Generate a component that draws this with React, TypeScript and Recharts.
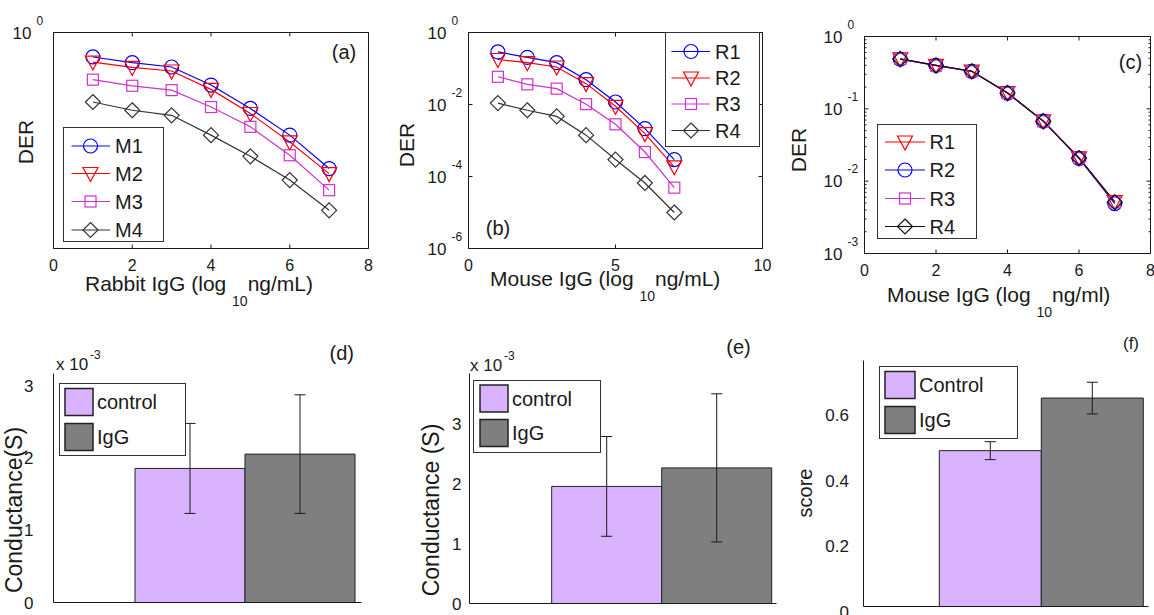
import React from 'react';
import { LineChart, Line, XAxis, YAxis, Legend, BarChart, Bar, ErrorBar } from 'recharts';

const FONT = '"Liberation Sans", Arial, Helvetica, sans-serif';
const INK = '#1a1a1a';
const W = 1154;
const H = 615;

// ---------- Panel (a): Rabbit IgG ----------
const concA = [1, 2, 3, 4, 5, 6, 7];
const derA_M1 = [0.209, 0.145, 0.11, 0.0347, 0.00776, 0.00141, 0.000166];
const derA_M2 = [0.151, 0.107, 0.0851, 0.0263, 0.00562, 0.000912, 0.00012];
const derA_M3 = [0.049, 0.0331, 0.0251, 0.00851, 0.0024, 0.000389, 0.0000417];
const derA_M4 = [0.01175, 0.00692, 0.00501, 0.00141, 0.000363, 0.0000794, 0.0000115];
const xTicksA = [0, 2, 4, 6, 8];
const yTicksA = [1];

// ---------- Panel (b): Mouse IgG ----------
const concB = [1, 2, 3, 4, 5, 6, 7];
const derB_R1 = [0.288, 0.204, 0.145, 0.049, 0.01175, 0.00214, 0.000295];
const derB_R2 = [0.178, 0.145, 0.11, 0.038, 0.00891, 0.00155, 0.000186];
const derB_R3 = [0.0589, 0.0363, 0.0275, 0.0102, 0.00282, 0.000479, 0.000049];
const derB_R4 = [0.01096, 0.00692, 0.00468, 0.00141, 0.000295, 0.0000661, 0.00001];
const xTicksB = [0, 5, 10];
const yTicksB = [1, 0.01, 0.0001, 0.000001];

// ---------- Panel (c): Mouse IgG ----------
const concC = [1, 2, 3, 4, 5, 6, 7];
const derC_R1 = [0.49, 0.4, 0.333, 0.167, 0.068, 0.021, 0.0052];
const derC_R2 = [0.485, 0.398, 0.33, 0.165, 0.0676, 0.0207, 0.0049];
const derC_R3 = [0.488, 0.396, 0.331, 0.166, 0.0672, 0.0209, 0.0051];
const derC_R4 = [0.49, 0.398, 0.331, 0.166, 0.0676, 0.0209, 0.00513];
const xTicksC = [0, 2, 4, 6, 8];
const yMajorC = [1, 0.1, 0.01, 0.001];
const yMinorC = [
  0.002, 0.003, 0.004, 0.005, 0.006, 0.007, 0.008, 0.009,
  0.02, 0.03, 0.04, 0.05, 0.06, 0.07, 0.08, 0.09,
  0.2, 0.3, 0.4, 0.5, 0.6, 0.7, 0.8, 0.9,
];

// ---------- Bar panels ----------
const barKeys = ['control', 'igg'];
const namesD = ['control', 'IgG'];
const conductanceD = [1.856, 2.054];
const conductanceErrD = [0.623, 0.821];
const yTicksD = [0, 1, 2, 3];

const namesE = ['control', 'IgG'];
const conductanceE = [1.96, 2.27];
const conductanceErrE = [0.835, 1.24];
const yTicksE = [0, 1, 2, 3];

const namesF = ['Control', 'IgG'];
const scoreF = [0.477, 0.638];
const scoreErrF = [0.0275, 0.0485];
const yTicksF = [0, 0.2, 0.4, 0.6];

const BLUE = '#0000ff';
const RED = '#ff0000';
const MAGENTA = '#cc33cc';
const CONTROL_FILL = '#d9b3fd';
const IGG_FILL = '#7f7f7f';

type Shape = 'circle' | 'tri' | 'square' | 'diamond';

const rowsA = concA.map((x, i) => ({ x, M1: derA_M1[i], M2: derA_M2[i], M3: derA_M3[i], M4: derA_M4[i] }));
const rowsB = concB.map((x, i) => ({ x, R1: derB_R1[i], R2: derB_R2[i], R3: derB_R3[i], R4: derB_R4[i] }));
const rowsC = concC.map((x, i) => ({ x, R1: derC_R1[i], R2: derC_R2[i], R3: derC_R3[i], R4: derC_R4[i] }));

const seriesA = [
  { key: 'M1', color: BLUE, shape: 'circle' as Shape },
  { key: 'M2', color: RED, shape: 'tri' as Shape },
  { key: 'M3', color: MAGENTA, shape: 'square' as Shape },
  { key: 'M4', color: '#333333', shape: 'diamond' as Shape },
];
const seriesB = [
  { key: 'R1', color: BLUE, shape: 'circle' as Shape },
  { key: 'R2', color: RED, shape: 'tri' as Shape },
  { key: 'R3', color: MAGENTA, shape: 'square' as Shape },
  { key: 'R4', color: '#333333', shape: 'diamond' as Shape },
];
const seriesC = [
  { key: 'R1', color: RED, shape: 'tri' as Shape },
  { key: 'R2', color: BLUE, shape: 'circle' as Shape },
  { key: 'R3', color: MAGENTA, shape: 'square' as Shape },
  { key: 'R4', color: '#111111', shape: 'diamond' as Shape },
];

function Marker({ shape, cx, cy, color }: { shape: Shape; cx: number; cy: number; color: string }) {
  const s = { fill: 'none', stroke: color, strokeWidth: 1.2 };
  if (cx == null || cy == null || isNaN(cx) || isNaN(cy)) return null;
  switch (shape) {
    case 'circle':
      return <circle cx={cx} cy={cy} r={7} {...s} />;
    case 'tri':
      return <polygon points={`${cx - 7.5},${cy - 6} ${cx + 7.5},${cy - 6} ${cx},${cy + 8}`} {...s} />;
    case 'square':
      return <rect x={cx - 5.5} y={cy - 5.5} width={11} height={11} {...s} />;
    default:
      return <polygon points={`${cx},${cy - 7.5} ${cx + 7.5},${cy} ${cx},${cy + 7.5} ${cx - 7.5},${cy}`} {...s} />;
  }
}

function XTick(props: any) {
  const { x, y, payload, side } = props;
  if (side === 'top') {
    return <line x1={x} x2={x} y1={y} y2={y + 4} stroke={INK} />;
  }
  return (
    <g>
      <line x1={x} x2={x} y1={y} y2={y - 4} stroke={INK} />
      <text x={x} y={y + 22} textAnchor="middle" fontSize={16} fontFamily={FONT} fill={INK}>
        {payload.value}
      </text>
    </g>
  );
}

function YLogTick(props: any) {
  const { x, y, payload, side, labelled } = props;
  const v = payload.value;
  const lg = Math.log10(v);
  const exp = Math.round(lg);
  const major = Math.abs(lg - exp) < 1e-6;
  const len = major ? 4 : 2;
  if (side === 'right') {
    return <line x1={x} x2={x - len} y1={y} y2={y} stroke={INK} />;
  }
  const showLabel = major && labelled && labelled.indexOf(v) >= 0;
  return (
    <g>
      <line x1={x} x2={x + len} y1={y} y2={y} stroke={INK} />
      {showLabel && (
        <g fontFamily={FONT} fill={INK}>
          <text x={x - 22} y={y + 6} textAnchor="end" fontSize={17}>10</text>
          <text x={x - 17} y={y - 8} textAnchor="start" fontSize={12}>{String(exp)}</text>
        </g>
      )}
    </g>
  );
}

function LineLegendBox({ payload, cfg, shapes, order }: any) {
  const items = (payload || [])
    .filter((p: any) => p.type !== 'none')
    .slice()
    .sort((a: any, b: any) => order.indexOf(a.dataKey) - order.indexOf(b.dataKey));
  return (
    <svg width={cfg.w} height={cfg.h} style={{ display: 'block' }}>
      <rect x={0.5} y={0.5} width={cfg.w - 1} height={cfg.h - 1} fill="#fff" stroke="#333" />
      {items.map((it: any, i: number) => {
        const cy = cfg.rows[i];
        return (
          <g key={String(it.dataKey)}>
            <line x1={cfg.l0} x2={cfg.l1} y1={cy} y2={cy} stroke={it.color} strokeWidth={1.2} />
            <Marker shape={shapes[it.dataKey]} cx={cfg.mx} cy={cy} color={it.color} />
            <text x={cfg.tx} y={cy + 7} fontSize={20} fontFamily={FONT} fill={INK}>
              {it.value}
            </text>
          </g>
        );
      })}
    </svg>
  );
}

// plot box given as absolute pixel edges; each axis takes 1px of room
function LinePanel({ data, series, box, xDomain, xTicks, yDomain, yTicks, yLabelled, legendCfg }: any) {
  const shapes: Record<string, Shape> = {};
  series.forEach((s: any) => (shapes[s.key] = s.shape));
  const order = series.map((s: any) => s.key);
  const margin = { left: box.l - 1, top: box.t - 1, right: W - box.r - 1, bottom: H - box.b - 1 };
  return (
    <div style={{ position: 'absolute', left: 0, top: 0 }}>
      <LineChart width={W} height={H} data={data} margin={margin}>
        <XAxis xAxisId="b" dataKey="x" type="number" domain={xDomain} ticks={xTicks} interval={0}
          allowDataOverflow height={1} tickSize={0} tickMargin={0} tickLine={false}
          axisLine={{ stroke: INK }} tick={<XTick side="bottom" />} />
        <XAxis xAxisId="t" orientation="top" dataKey="x" type="number" domain={xDomain} ticks={xTicks} interval={0}
          allowDataOverflow height={1} tickSize={0} tickMargin={0} tickLine={false}
          axisLine={{ stroke: INK }} tick={<XTick side="top" />} />
        <YAxis yAxisId="l" type="number" scale="log" domain={yDomain} ticks={yTicks} interval={0}
          allowDataOverflow width={1} tickSize={0} tickMargin={0} tickLine={false}
          axisLine={{ stroke: INK }} tick={<YLogTick side="left" labelled={yLabelled} />} />
        <YAxis yAxisId="r" orientation="right" type="number" scale="log" domain={yDomain} ticks={yTicks} interval={0}
          allowDataOverflow width={1} tickSize={0} tickMargin={0} tickLine={false}
          axisLine={{ stroke: INK }} tick={<YLogTick side="right" />} />
        <Legend layout="vertical" align="center" verticalAlign="middle"
          wrapperStyle={{ left: legendCfg.x, top: legendCfg.y, width: legendCfg.w, height: legendCfg.h }}
          content={(p: any) => <LineLegendBox payload={p.payload} cfg={legendCfg} shapes={shapes} order={order} />} />
        {series.map((s: any) => (
          <Line key={s.key} xAxisId="b" yAxisId="l" dataKey={s.key} name={s.key} stroke={s.color}
            strokeWidth={1.2} activeDot={false} isAnimationActive={false}
            dot={(p: any) => <Marker key={`${s.key}-${p.index}`} shape={s.shape} cx={p.cx} cy={p.cy} color={s.color} />} />
        ))}
        <Line xAxisId="t" yAxisId="r" dataKey={series[0].key} stroke="none" dot={false} activeDot={false}
          legendType="none" isAnimationActive={false} />
      </LineChart>
    </div>
  );
}

function BarYTick(props: any) {
  const { x, y, payload, gap, dy } = props;
  return (
    <text x={x - gap} y={y + 6 + (dy || 0)} textAnchor="end" fontSize={17} fontFamily={FONT} fill={INK}>
      {payload.value}
    </text>
  );
}

function BarLegendBox({ payload, cfg }: any) {
  const items = (payload || [])
    .slice()
    .sort((a: any, b: any) => barKeys.indexOf(a.dataKey) - barKeys.indexOf(b.dataKey));
  return (
    <svg width={cfg.w} height={cfg.h} style={{ display: 'block' }}>
      <rect x={0.5} y={0.5} width={cfg.w - 1} height={cfg.h - 1} fill="#fff" stroke="#333" />
      {items.map((it: any, i: number) => {
        const top = cfg.rows[i];
        return (
          <g key={String(it.dataKey)}>
            <rect x={cfg.sx} y={top} width={cfg.sw} height={cfg.sh} fill={it.color} stroke="#222" strokeWidth={1.5} />
            <text x={cfg.tx} y={top + cfg.sh / 2 + 7} fontSize={20} fontFamily={FONT} fill={INK}>
              {it.value}
            </text>
          </g>
        );
      })}
    </svg>
  );
}

function BarPanel({ values, errors, names, box, pad, yDomain, yTicks, gap, labelDy, legendCfg }: any) {
  const data = [{ group: '', control: values[0], igg: values[1], controlErr: errors[0], iggErr: errors[1] }];
  const fills = [CONTROL_FILL, IGG_FILL];
  const margin = { left: box.l - 1, top: box.t, right: W - box.r, bottom: H - box.b - 1 };
  return (
    <div style={{ position: 'absolute', left: 0, top: 0 }}>
      <BarChart width={W} height={H} data={data} margin={margin} barCategoryGap={0} barGap={0}>
        <XAxis dataKey="group" type="category" padding={pad} height={1} tick={false} tickLine={false}
          tickSize={0} axisLine={{ stroke: INK }} />
        <YAxis type="number" domain={yDomain} ticks={yTicks} interval={0} width={1} tickSize={0} tickMargin={0}
          tickLine={false} axisLine={{ stroke: INK }} allowDataOverflow
          tick={<BarYTick gap={gap} dy={labelDy} />} />
        <Legend layout="vertical" align="center" verticalAlign="middle"
          wrapperStyle={{ left: legendCfg.x, top: legendCfg.y, width: legendCfg.w, height: legendCfg.h }}
          content={(p: any) => <BarLegendBox payload={p.payload} cfg={legendCfg} />} />
        {barKeys.map((k, i) => (
          <Bar key={k} dataKey={k} name={names[i]} fill={fills[i]} stroke="#222" strokeWidth={1}
            isAnimationActive={false}>
            <ErrorBar dataKey={`${k}Err`} width={5.5} stroke={INK} strokeWidth={1} direction="y" />
          </Bar>
        ))}
      </BarChart>
    </div>
  );
}

function AxisTitle({ x, y, main, sub, tail }: any) {
  return (
    <text x={x} y={y} fontSize={21} fontFamily={FONT} fill={INK}>
      {main}
      <tspan fontSize={14} dy={15}>{sub}</tspan>
      <tspan fontSize={21} dy={-15}>{tail}</tspan>
    </text>
  );
}

function VTitle({ cx, cy, text, size }: any) {
  return (
    <text x={cx} y={cy} fontSize={size} fontFamily={FONT} fill={INK} textAnchor="middle"
      dominantBaseline="central" transform={`rotate(-90 ${cx} ${cy})`}>
      {text}
    </text>
  );
}

function PanelTag({ cx, cy, text, size }: any) {
  return (
    <text x={cx} y={cy} fontSize={size} fontFamily={FONT} fill={INK} textAnchor="middle" dominantBaseline="central">
      {text}
    </text>
  );
}

function Multiplier({ x, y }: any) {
  return (
    <g fontFamily={FONT} fill={INK}>
      <text x={x} y={y} fontSize={17}>x 10</text>
      <text x={x + 34} y={y - 11} fontSize={12}>-3</text>
    </g>
  );
}

export default function App() {
  return (
    <div style={{ position: 'fixed', left: 0, top: 0, width: W, height: H, overflow: 'hidden', background: '#fff', fontFamily: FONT }}>
      <LinePanel data={rowsA} series={seriesA}
        box={{ l: 53.5, t: 32.5, r: 368.5, b: 248.5 }}
        xDomain={[0, 8]} xTicks={xTicksA} yDomain={[0.000001, 1]} yTicks={yTicksA} yLabelled={yTicksA}
        legendCfg={{ x: 63, y: 127, w: 101, h: 115, rows: [19, 46.5, 74.5, 103], l0: 8.5, l1: 47, mx: 27.5, tx: 52 }} />
      <LinePanel data={rowsB} series={seriesB}
        box={{ l: 468.5, t: 32.5, r: 762.5, b: 248.5 }}
        xDomain={[0, 10]} xTicks={xTicksB} yDomain={[0.000001, 1]} yTicks={yTicksB} yLabelled={yTicksB}
        legendCfg={{ x: 665, y: 32, w: 95, h: 115, rows: [19.5, 46, 72, 98.5], l0: 6.5, l1: 45, mx: 26, tx: 50 }} />
      <LinePanel data={rowsC} series={seriesC}
        box={{ l: 864.5, t: 36.5, r: 1150.5, b: 253.5 }}
        xDomain={[0, 8]} xTicks={xTicksC} yDomain={[0.001, 1]} yTicks={[...yMajorC, ...yMinorC]} yLabelled={yMajorC}
        legendCfg={{ x: 877, y: 124, w: 100, h: 115, rows: [18, 46, 74.5, 102.5], l0: 8, l1: 48, mx: 28, tx: 52.5 }} />

      <BarPanel values={conductanceD} errors={conductanceErrD} names={namesD}
        box={{ l: 53.5, t: 373.5, r: 361.5, b: 602.5 }}
        pad={{ left: 81.5, right: 6.5 }} yDomain={[0, 3.17]} yTicks={yTicksD} gap={20} labelDy={0}
        legendCfg={{ x: 59, y: 383, w: 127, h: 73, rows: [5.5, 40.5], sx: 6, sw: 28, sh: 27, tx: 38 }} />
      <BarPanel values={conductanceE} errors={conductanceErrE} names={namesE}
        box={{ l: 469.5, t: 373.5, r: 776.5, b: 603.5 }}
        pad={{ left: 82.2, right: 4.8 }} yDomain={[0, 3.85]} yTicks={yTicksE} gap={8} labelDy={0}
        legendCfg={{ x: 473, y: 380, w: 128, h: 73, rows: [5, 39.5], sx: 7, sw: 28, sh: 27, tx: 39 }} />
      <BarPanel values={scoreF} errors={scoreErrF} names={namesF}
        box={{ l: 863.5, t: 360.5, r: 1148.5, b: 606.5 }}
        pad={{ left: 75.8, right: 6.2 }} yDomain={[0, 0.753]} yTicks={yTicksF} gap={14.5} labelDy={5}
        legendCfg={{ x: 879, y: 366, w: 139, h: 73, rows: [5.5, 40.5], sx: 6, sw: 30, sh: 27, tx: 40 }} />

      <svg width={W} height={H} style={{ position: 'absolute', left: 0, top: 0, pointerEvents: 'none' }}>
        <AxisTitle x={85} y={291} main="Rabbit IgG (log " sub="10" tail="ng/mL)" />
        <AxisTitle x={490} y={286} main="Mouse IgG (log " sub="10" tail="ng/mL)" />
        <AxisTitle x={887} y={301.5} main="Mouse IgG (log " sub="10" tail="ng/ml)" />
        <VTitle cx={25} cy={142} text="DER" size={21} />
        <VTitle cx={406.5} cy={145} text="DER" size={21} />
        <VTitle cx={798} cy={150} text="DER" size={21} />
        <VTitle cx={14} cy={510} text="Conductance(S)" size={23} />
        <VTitle cx={431} cy={510} text="Conductance (S)" size={23} />
        <VTitle cx={805} cy={493} text="score" size={20} />
        <PanelTag cx={344} cy={52} text="(a)" size={20} />
        <PanelTag cx={498} cy={228} text="(b)" size={20} />
        <PanelTag cx={1130.5} cy={62} text="(c)" size={20} />
        <PanelTag cx={341.7} cy={353} text="(d)" size={20} />
        <PanelTag cx={738.5} cy={347} text="(e)" size={20} />
        <PanelTag cx={1131} cy={343} text="(f)" size={17} />
        <Multiplier x={56} y={370} />
        <Multiplier x={470} y={371} />
      </svg>
    </div>
  );
}
